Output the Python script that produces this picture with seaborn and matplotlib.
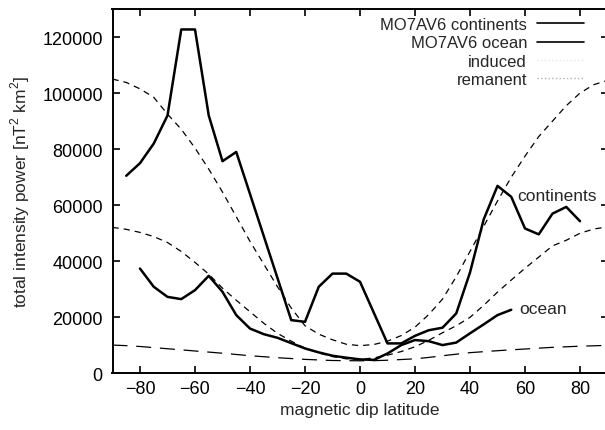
import numpy as np
import pandas as pd
import matplotlib
matplotlib.use('Agg')
import matplotlib.pyplot as plt
import seaborn as sns
from matplotlib.lines import Line2D

# observed power, MO7AV6 model, 5 degree bins
lat_cont = list(range(-85, 81, 5))
power_cont = [70500, 75000, 82000, 92000, 122700, 122700, 92000, 75700, 79000, 64000,
              49000, 34000, 19000, 18400, 30900, 35600, 35600, 32700, 21700, 10700,
              10700, 13400, 15400, 16300, 21400, 36000, 55000, 66900, 63000, 51700,
              49600, 57000, 59400, 54300]

lat_ocean = list(range(-80, 56, 5))
power_ocean = [37400, 30900, 27300, 26500, 29700, 34800, 29100, 20800, 16000, 14000,
               12700, 10800, 8900, 7500, 6300, 5600, 5000, 4800, 7100, 10100,
               11900, 11500, 10100, 11000, 14300, 17500, 20800, 22700]

# model curves, 5 degree steps
lat_model = list(range(-90, 91, 5))
induced_cont = [105000, 103800, 101500, 98500, 92500, 87100, 80400, 72900, 64700, 55900,
                47100, 39000, 30900, 23300, 17000, 14000, 12000, 10400, 9900,
                10300, 11500, 13500, 16500, 21000, 26500, 34500, 43500, 52500, 61500,
                70000, 77500, 84500, 90000, 95500, 100000, 103000, 104500]
induced_ocean = [52100, 51400, 50300, 48800, 46700, 43500, 39600, 35400, 30400, 26100,
                 22000, 17900, 14300, 11500, 9000, 7300, 6000, 5200, 5000,
                 5500, 6500, 7800, 9500, 11800, 14500, 17000, 20000, 24300, 29000,
                 33300, 37500, 41500, 45500, 47500, 50000, 51500, 52300]
remanent = [10100, 9900, 9600, 9200, 8800, 8400, 8000, 7600, 7200, 6750,
            6300, 5950, 5600, 5300, 5000, 4800, 4600, 4550, 4500,
            4550, 4700, 4950, 5200, 5700, 6300, 6850, 7400, 7750, 8100,
            8400, 8700, 9000, 9300, 9500, 9700, 9850, 10000]

sns.set_theme(style='ticks')
plt.rcParams['font.family'] = ['Liberation Sans', 'DejaVu Sans']
plt.rcParams['mathtext.fontset'] = 'custom'
plt.rcParams['mathtext.rm'] = 'Liberation Sans'

fig = plt.figure(figsize=(6.05, 4.31), dpi=100)
ax = fig.add_axes([112.5 / 605, 56.6 / 431, 495 / 605, 364.4 / 431])

sns.lineplot(x=lat_model, y=induced_cont, ax=ax, color='black', lw=0.9,
             linestyle=(0, (5, 4)))
sns.lineplot(x=lat_model, y=induced_ocean, ax=ax, color='black', lw=0.9,
             linestyle=(0, (5, 4)))
sns.lineplot(x=lat_model, y=remanent, ax=ax, color='black', lw=0.9,
             linestyle=(0, (12, 7)))
sns.lineplot(x=lat_cont, y=power_cont, ax=ax, color='black', lw=1.8)
sns.lineplot(x=lat_ocean, y=power_ocean, ax=ax, color='black', lw=1.8)

ax.text(57.0, 63400, 'continents', fontsize=12.5, va='center', ha='left')
ax.text(57.9, 23200, 'ocean', fontsize=12.5, va='center', ha='left')

ax.set_xlim(-90, 90)
ax.set_ylim(0, 130000)
ax.set_xticks(range(-80, 81, 20))
ax.set_yticks(range(0, 120001, 20000))
ax.tick_params(direction='in', length=5, width=1.2, top=True, right=True,
               labelsize=13, colors='black')
ax.tick_params(axis='x', pad=5)
ax.tick_params(axis='y', pad=7)
for s in ax.spines.values():
    s.set_linewidth(1.4)
    s.set_color('black')

ax.set_xlabel('magnetic dip latitude', fontsize=12.5, labelpad=3)
ax.set_ylabel('total intensity power [nT$^2$ km$^2$]', fontsize=12.5, labelpad=7)

handles = [Line2D([], [], color='black', lw=1.2),
           Line2D([], [], color='black', lw=1.2),
           Line2D([], [], color='#e6e6e6', lw=1.0, linestyle=':'),
           Line2D([], [], color='#b0b0b0', lw=1.0, linestyle=':')]
labels = ['MO7AV6 continents', 'MO7AV6 ocean', 'induced', 'remanent']
ax.legend(handles, labels, loc='upper right', bbox_to_anchor=(0.952, 0.978),
          frameon=False, markerfirst=False, fontsize=12, handlelength=2.8,
          handletextpad=0.6, labelspacing=0.2, borderpad=0, borderaxespad=0)

fig.savefig('out.png', dpi=100)
